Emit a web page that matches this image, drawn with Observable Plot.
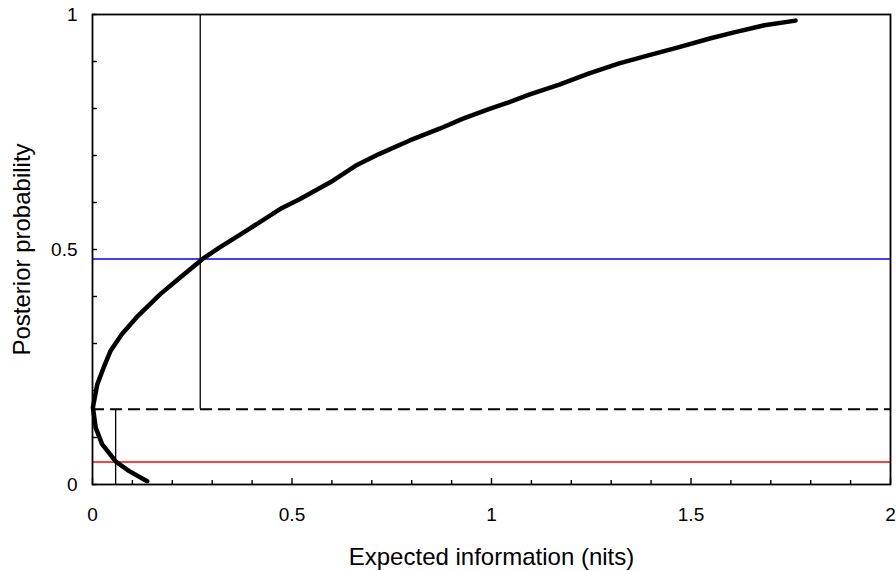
<!DOCTYPE html>
<html><head><meta charset="utf-8">
<script src="https://cdn.jsdelivr.net/npm/d3@7"></script>
<script src="https://cdn.jsdelivr.net/npm/@observablehq/plot@0.6"></script>
<style>html,body{margin:0;padding:0;background:#fff} svg{display:block}</style>
</head><body><div id="chart"></div>
<script>
// Curve: posterior probability vs expected information
const posterior = [0.007, 0.029, 0.049, 0.086, 0.121, 0.164, 0.213, 0.249, 0.284, 0.320, 0.359, 0.405, 0.440, 0.480, 0.504, 0.544, 0.586, 0.607, 0.643, 0.678, 0.703, 0.732, 0.757, 0.778, 0.799, 0.813, 0.830, 0.851, 0.874, 0.896, 0.913, 0.930, 0.949, 0.962, 0.977, 0.987];
const info      = [0.137, 0.091, 0.058, 0.024, 0.008, 0.001, 0.012, 0.028, 0.045, 0.074, 0.114, 0.170, 0.219, 0.276, 0.318, 0.393, 0.470, 0.519, 0.596, 0.659, 0.718, 0.795, 0.870, 0.927, 0.995, 1.043, 1.096, 1.170, 1.243, 1.320, 1.393, 1.468, 1.547, 1.608, 1.684, 1.762];

// Reference levels
const blueLevel = 0.48;
const redLevel = 0.048;
const priorLevel = 0.16;
const markerInfo = [0.27, 0.058];
const markerFrom = [0.16, 0];
const markerTo   = [1, 0.16];

// Ticks
const xTickValues = [0, 0.5, 1, 1.5, 2];
const xTickLabels = ["0", "0.5", "1", "1.5", "2"];
const xMinorTicks = [0.1, 0.2, 0.3, 0.4, 0.6, 0.7, 0.8, 0.9, 1.1, 1.2, 1.3, 1.4, 1.6, 1.7, 1.8, 1.9];
const yTickValues = [0, 0.5, 1];
const yTickLabels = ["0", "0.5", "1"];
const yMinorTicks = [0.1, 0.2, 0.3, 0.4, 0.6, 0.7, 0.8, 0.9];
const xTitle = "Expected information (nits)";
const yTitle = "Posterior probability";

const W = 896, H = 571, mt = 14, mb = 87, ml = 92, mr = 6;
const innerH = H - mt - mb, innerW = W - ml - mr;
const curve = posterior.map((p, i) => ({p, info: info[i]}));
const markers = markerInfo.map((x, i) => ({x, y1: markerFrom[i], y2: markerTo[i]}));

const chart = Plot.plot({
  width: W, height: H,
  marginTop: mt, marginBottom: mb, marginLeft: ml, marginRight: mr,
  style: {fontFamily: "'Liberation Sans', Arial, sans-serif", background: "white", color: "black"},
  x: {domain: [0, 2]},
  y: {domain: [0, 1]},
  marks: [
    Plot.ruleY([blueLevel], {stroke: "#0000ff", strokeWidth: 1.5}),
    Plot.ruleY([redLevel], {stroke: "#ff0000", strokeWidth: 1.5}),
    Plot.ruleY([priorLevel], {stroke: "black", strokeWidth: 2, strokeDasharray: "12,6"}),
    Plot.ruleX(markers, {x: "x", y1: "y1", y2: "y2", stroke: "black", strokeWidth: 1.3}),
    Plot.line(curve, {x: "info", y: "p", stroke: "black", strokeWidth: 4.5, strokeLinecap: "round", strokeLinejoin: "round"}),
    Plot.tickX(xMinorTicks, {x: d => d, insetTop: innerH - 4, stroke: "black", strokeWidth: 1.4}),
    Plot.tickX(xTickValues, {x: d => d, insetTop: innerH - 6, stroke: "black", strokeWidth: 1.4}),
    Plot.tickY(yMinorTicks.concat(yTickValues), {y: d => d, insetRight: innerW - 5, stroke: "black", strokeWidth: 1.4}),
    Plot.frame({stroke: "black", strokeWidth: 1.8}),
    Plot.axisX(xTickValues, {tickSize: 0, tickPadding: 23, fontSize: 19, label: null,
      tickFormat: d => xTickLabels[xTickValues.indexOf(d)]}),
    Plot.axisY(yTickValues, {tickSize: 0, tickPadding: 15, fontSize: 19, label: null,
      tickFormat: d => yTickLabels[yTickValues.indexOf(d)]}),
    Plot.text([xTitle], {text: d => d, frameAnchor: "bottom", dy: 80, lineAnchor: "bottom", textAnchor: "middle", fontSize: 24}),
    Plot.text([yTitle], {text: d => d, frameAnchor: "left", rotate: -90, dx: -63, lineAnchor: "bottom", textAnchor: "middle", fontSize: 24})
  ]
});
document.getElementById("chart").appendChild(chart);
</script>
</body></html>
